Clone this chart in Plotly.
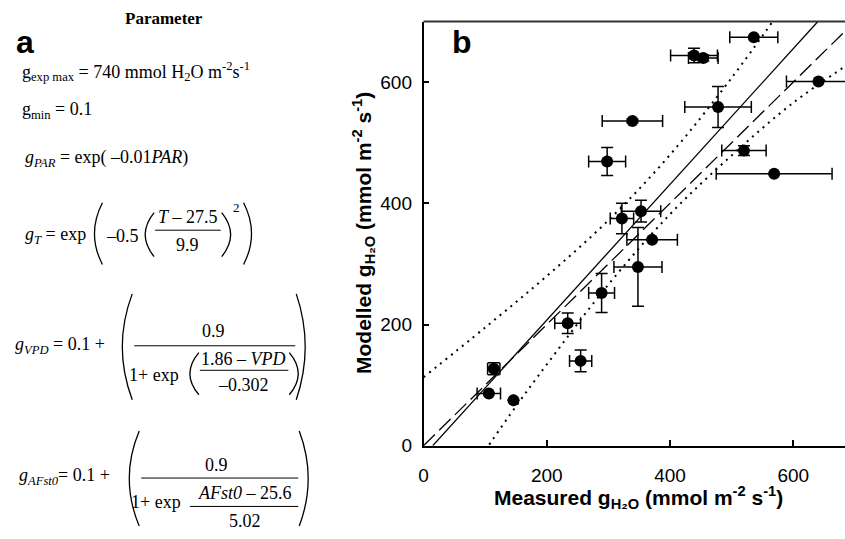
import plotly.graph_objects as go

W, H = 845, 539
SANS = "Liberation Sans, Arial, sans-serif"
SERIF = "Liberation Serif, Times New Roman, serif"

# ---------------- data ----------------
measured = [536, 439, 454, 641, 478, 339, 298, 520, 569, 353, 322, 371, 348, 289, 234, 255, 114, 106, 146]
modelled = [674, 644, 640, 601, 559, 536, 469, 487, 449, 387, 375, 340, 295, 252, 202, 140, 127, 86, 75]
measured_err = [39, 38, 24, 52, 54, 49, 30, 36, 94, 32, 19, 41, 39, 21, 21, 18, 10, 19, 0]
modelled_err = [0, 12, 5, 0, 34, 3, 23, 8, 0, 18, 25, 0, 65, 32, 17, 18, 10, 0, 0]

regression_x = [15, 640]
regression_y = [0, 700]
one_to_one_x = [0, 700]
one_to_one_y = [0, 700]
upper_band_x = [0, 100, 200, 300, 400, 500, 570]
upper_band_y = [113, 195, 280, 372, 480, 607, 705]
lower_band_x = [100, 150, 200, 300, 400, 500, 600, 690]
lower_band_y = [-8, 65, 134, 266, 382, 479, 566, 630]

x_ticks = [0, 200, 400, 600]
y_ticks = [0, 200, 400, 600]


def X(px):
    return px / W


def Y(py):
    return 1 - py / H


fig = go.Figure()
dotted = dict(color="black", width=2, dash="2px,5px", shape="spline")
fig.add_trace(go.Scatter(x=upper_band_x, y=upper_band_y, mode="lines", line=dotted, hoverinfo="skip"))
fig.add_trace(go.Scatter(x=lower_band_x, y=lower_band_y, mode="lines", line=dotted, hoverinfo="skip"))
fig.add_trace(go.Scatter(x=one_to_one_x, y=one_to_one_y, mode="lines",
                         line=dict(color="black", width=1.3, dash="16px,6px"), hoverinfo="skip"))
fig.add_trace(go.Scatter(x=regression_x, y=regression_y, mode="lines",
                         line=dict(color="black", width=1.3), hoverinfo="skip"))
fig.add_trace(go.Scatter(
    x=measured, y=modelled, mode="markers",
    marker=dict(color="black", size=12),
    error_x=dict(type="data", array=measured_err, color="black", thickness=1.5, width=6),
    error_y=dict(type="data", array=modelled_err, color="black", thickness=1.5, width=6),
))


def A(x, y, text, size=18, family=SERIF, xanchor="left", yanchor="middle", angle=0):
    return dict(x=X(x), y=Y(y), xref="paper", yref="paper", text=text, showarrow=False,
                xanchor=xanchor, yanchor=yanchor, textangle=angle,
                font=dict(family=family, size=size, color="black"))


ann = [
    A(160, 19, "<b>Parameter</b>", 17, xanchor="center"),
    A(9, 43, "<b>a</b>", 32, SANS),
    A(15, 73, "g<sub>exp max</sub> = 740 mmol H<sub>2</sub>O m<sup>-2</sup>s<sup>-1</sup>"),
    A(15, 113, "g<sub>min</sub> = 0.1"),
    A(18, 162, "<i>g<sub>PAR</sub></i> = exp( –0.01<i>PAR</i>)"),
    # g_T
    A(18, 240, "<i>g<sub>T</sub></i> = exp"),
    A(100, 241, "–0.5"),
    A(184, 222, "<i>T</i> – 27.5", xanchor="center"),
    A(184, 250, "9.9", xanchor="center"),
    A(233, 212, "2", 13, xanchor="center"),
    # g_VPD
    A(8, 353, "<i>g<sub>VPD</sub></i> = 0.1 +"),
    A(210, 338, "0.9", xanchor="center"),
    A(123, 383, "1+ exp"),
    A(240, 366, "1.86 – <i>VPD</i>", xanchor="center"),
    A(240, 393, "–0.302", xanchor="center"),
    # g_AFst0
    A(12, 486, "<i>g<sub>AFst0</sub></i>= 0.1 +"),
    A(213, 475, "0.9", xanchor="center"),
    A(125, 512, "1+ exp"),
    A(241, 503, "<i>AFst0</i> – 25.6", xanchor="center"),
    A(241, 532, "5.02", xanchor="center"),
    # panel b
    A(460, 43, "<b>b</b>", 32, SANS, xanchor="center"),
    A(637, 508, "<b>Measured g<sub>H₂O</sub> (mmol m<sup>-2</sup> s<sup>-1</sup>)</b>", 21, SANS, xanchor="center"),
    A(360, 238, "<b>Modelled g<sub>H₂O</sub> (mmol m<sup>-2</sup> s<sup>-1</sup>)</b>", 21, SANS,
      xanchor="center", angle=-90),
]


def hline(x0, x1, y, w=1):
    return dict(type="line", xref="paper", yref="paper", x0=X(x0), x1=X(x1), y0=Y(y), y1=Y(y),
                line=dict(color="black", width=w))


def paren(x_end, x_bulge, yt, yb, w=1.3):
    cx = 2 * x_bulge - x_end
    path = f"M {X(x_end)},{Y(yt)} Q {X(cx)},{Y((yt + yb) / 2)} {X(x_end)},{Y(yb)}"
    return dict(type="path", xref="paper", yref="paper", path=path, line=dict(color="black", width=w))


shapes = [
    # g_T
    paren(98, 90, 207, 270), paren(150, 141, 217, 262), paren(218, 227, 217, 262), paren(240, 248, 207, 270),
    hline(151, 217, 235),
    # g_VPD
    paren(128, 118, 300, 408), paren(293, 302, 300, 408), paren(195, 186, 360, 403), paren(286, 295, 360, 403),
    hline(130, 292, 353), hline(196, 285, 378),
    # g_AFst0
    paren(135, 125, 440, 537), paren(296, 305, 440, 537),
    hline(137, 295, 488), hline(186, 295, 517),
    # top frame of panel b
    dict(type="line", xref="x domain", yref="y domain", x0=0, x1=1, y0=1, y1=1,
         line=dict(color="#333333", width=2)),
]

axis_common = dict(showgrid=False, zeroline=False, showline=True, linecolor="black", linewidth=1.5,
                   ticks="inside", ticklen=6, tickwidth=1.5, tickcolor="black",
                   tickfont=dict(family=SANS, size=19, color="black"))

fig.update_layout(
    width=W, height=H, margin=dict(l=0, r=0, t=0, b=0),
    paper_bgcolor="white", plot_bgcolor="white", showlegend=False,
    xaxis=dict(domain=[421 / W, 1], range=[0, 684], tickvals=x_ticks, ticklabelstandoff=12, **axis_common),
    yaxis=dict(domain=[Y(455), Y(22)], range=[0, 700], tickvals=y_ticks, ticklabelstandoff=6, **axis_common),
    annotations=ann, shapes=shapes,
)

fig.write_html("out.html")
